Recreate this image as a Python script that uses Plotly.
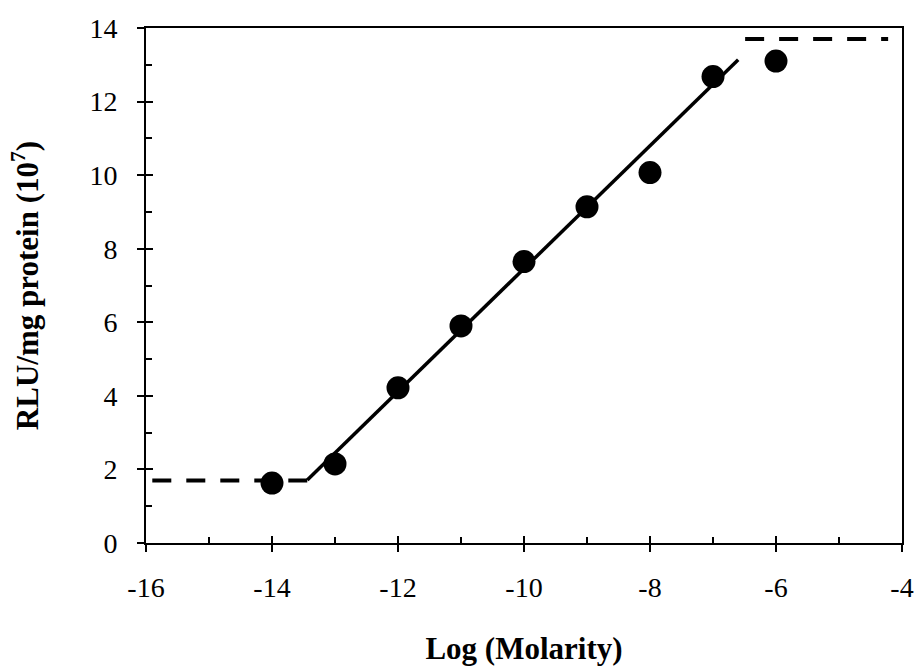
import plotly.graph_objects as go

# Measured response vs. log molar concentration
log_molarity = [-14, -13, -12, -11, -10, -9, -8, -7, -6]
rlu = [1.63, 2.15, 4.22, 5.9, 7.65, 9.14, 10.07, 12.68, 13.1]

# Linear fit segment
fit_x = [-13.44, -6.6]
fit_y = [1.71, 13.14]

# Lower and upper plateaus
low_x = [-15.9, -13.44]
low_y = [1.7, 1.7]
high_x = [-6.49, -4.22]
high_y = [13.7, 13.7]

x_ticks = [-16, -14, -12, -10, -8, -6, -4]
y_ticks = [0, 2, 4, 6, 8, 10, 12, 14]

FONT = "Liberation Serif"

fig = go.Figure()
fig.add_trace(go.Scatter(x=low_x, y=low_y, mode="lines",
                         line=dict(color="black", width=4, dash="19px,15px")))
fig.add_trace(go.Scatter(x=high_x, y=high_y, mode="lines",
                         line=dict(color="black", width=4, dash="19px,15px")))
fig.add_trace(go.Scatter(x=fit_x, y=fit_y, mode="lines",
                         line=dict(color="black", width=3.5)))
fig.add_trace(go.Scatter(x=log_molarity, y=rlu, mode="markers",
                         marker=dict(color="black", size=23, line=dict(width=0))))

axis_common = dict(showgrid=False, zeroline=False, showline=True, linecolor="black",
                   linewidth=2, mirror=True, ticks="outside", ticklen=7, tickwidth=2,
                   tickcolor="black", automargin=False,
                   tickfont=dict(family=FONT, size=28, color="black"))

fig.update_xaxes(range=[-16, -4], tickvals=x_ticks,
                 ticktext=[str(v) for v in x_ticks],
                 minor=dict(ticks="inside", tickvals=[-15, -13, -11, -9, -7, -5],
                            ticklen=6, tickwidth=2, tickcolor="black"),
                 title=dict(text="<b>Log (Molarity)</b>", font=dict(family=FONT, size=31, color="black"),
                            standoff=36),
                 ticklabelstandoff=11,
                 **axis_common)
fig.update_yaxes(range=[0, 14], tickvals=y_ticks,
                 minor=dict(ticks="inside", tickvals=[1, 3, 5, 7, 9, 11, 13],
                            ticklen=6, tickwidth=2, tickcolor="black"),
                 title=dict(text="<b>RLU/mg protein (10<sup>7</sup>)</b>",
                            font=dict(family=FONT, size=31, color="black"), standoff=42),
                 ticklabelstandoff=14,
                 **axis_common)

# Inner halves of the major ticks so they cross the axis lines
fig.update_layout(
    xaxis2=dict(overlaying="x", range=[-16, -4], tickvals=x_ticks,
                ticks="inside", ticklen=7, tickwidth=2, tickcolor="black",
                showticklabels=False, showgrid=False, zeroline=False, showline=False,
                side="bottom", anchor="y"),
    yaxis2=dict(overlaying="y", range=[0, 14], tickvals=y_ticks,
                ticks="inside", ticklen=7, tickwidth=2, tickcolor="black",
                showticklabels=False, showgrid=False, zeroline=False, showline=False,
                side="left", anchor="x"),
)
fig.add_trace(go.Scatter(x=[-16], y=[0], xaxis="x2", yaxis="y2", mode="markers",
                         marker=dict(opacity=0), hoverinfo="skip"))

fig.update_layout(width=915, height=666, showlegend=False,
                  plot_bgcolor="white", paper_bgcolor="white",
                  margin=dict(l=146, r=13, t=28, b=123))

fig.write_html("out.html")
